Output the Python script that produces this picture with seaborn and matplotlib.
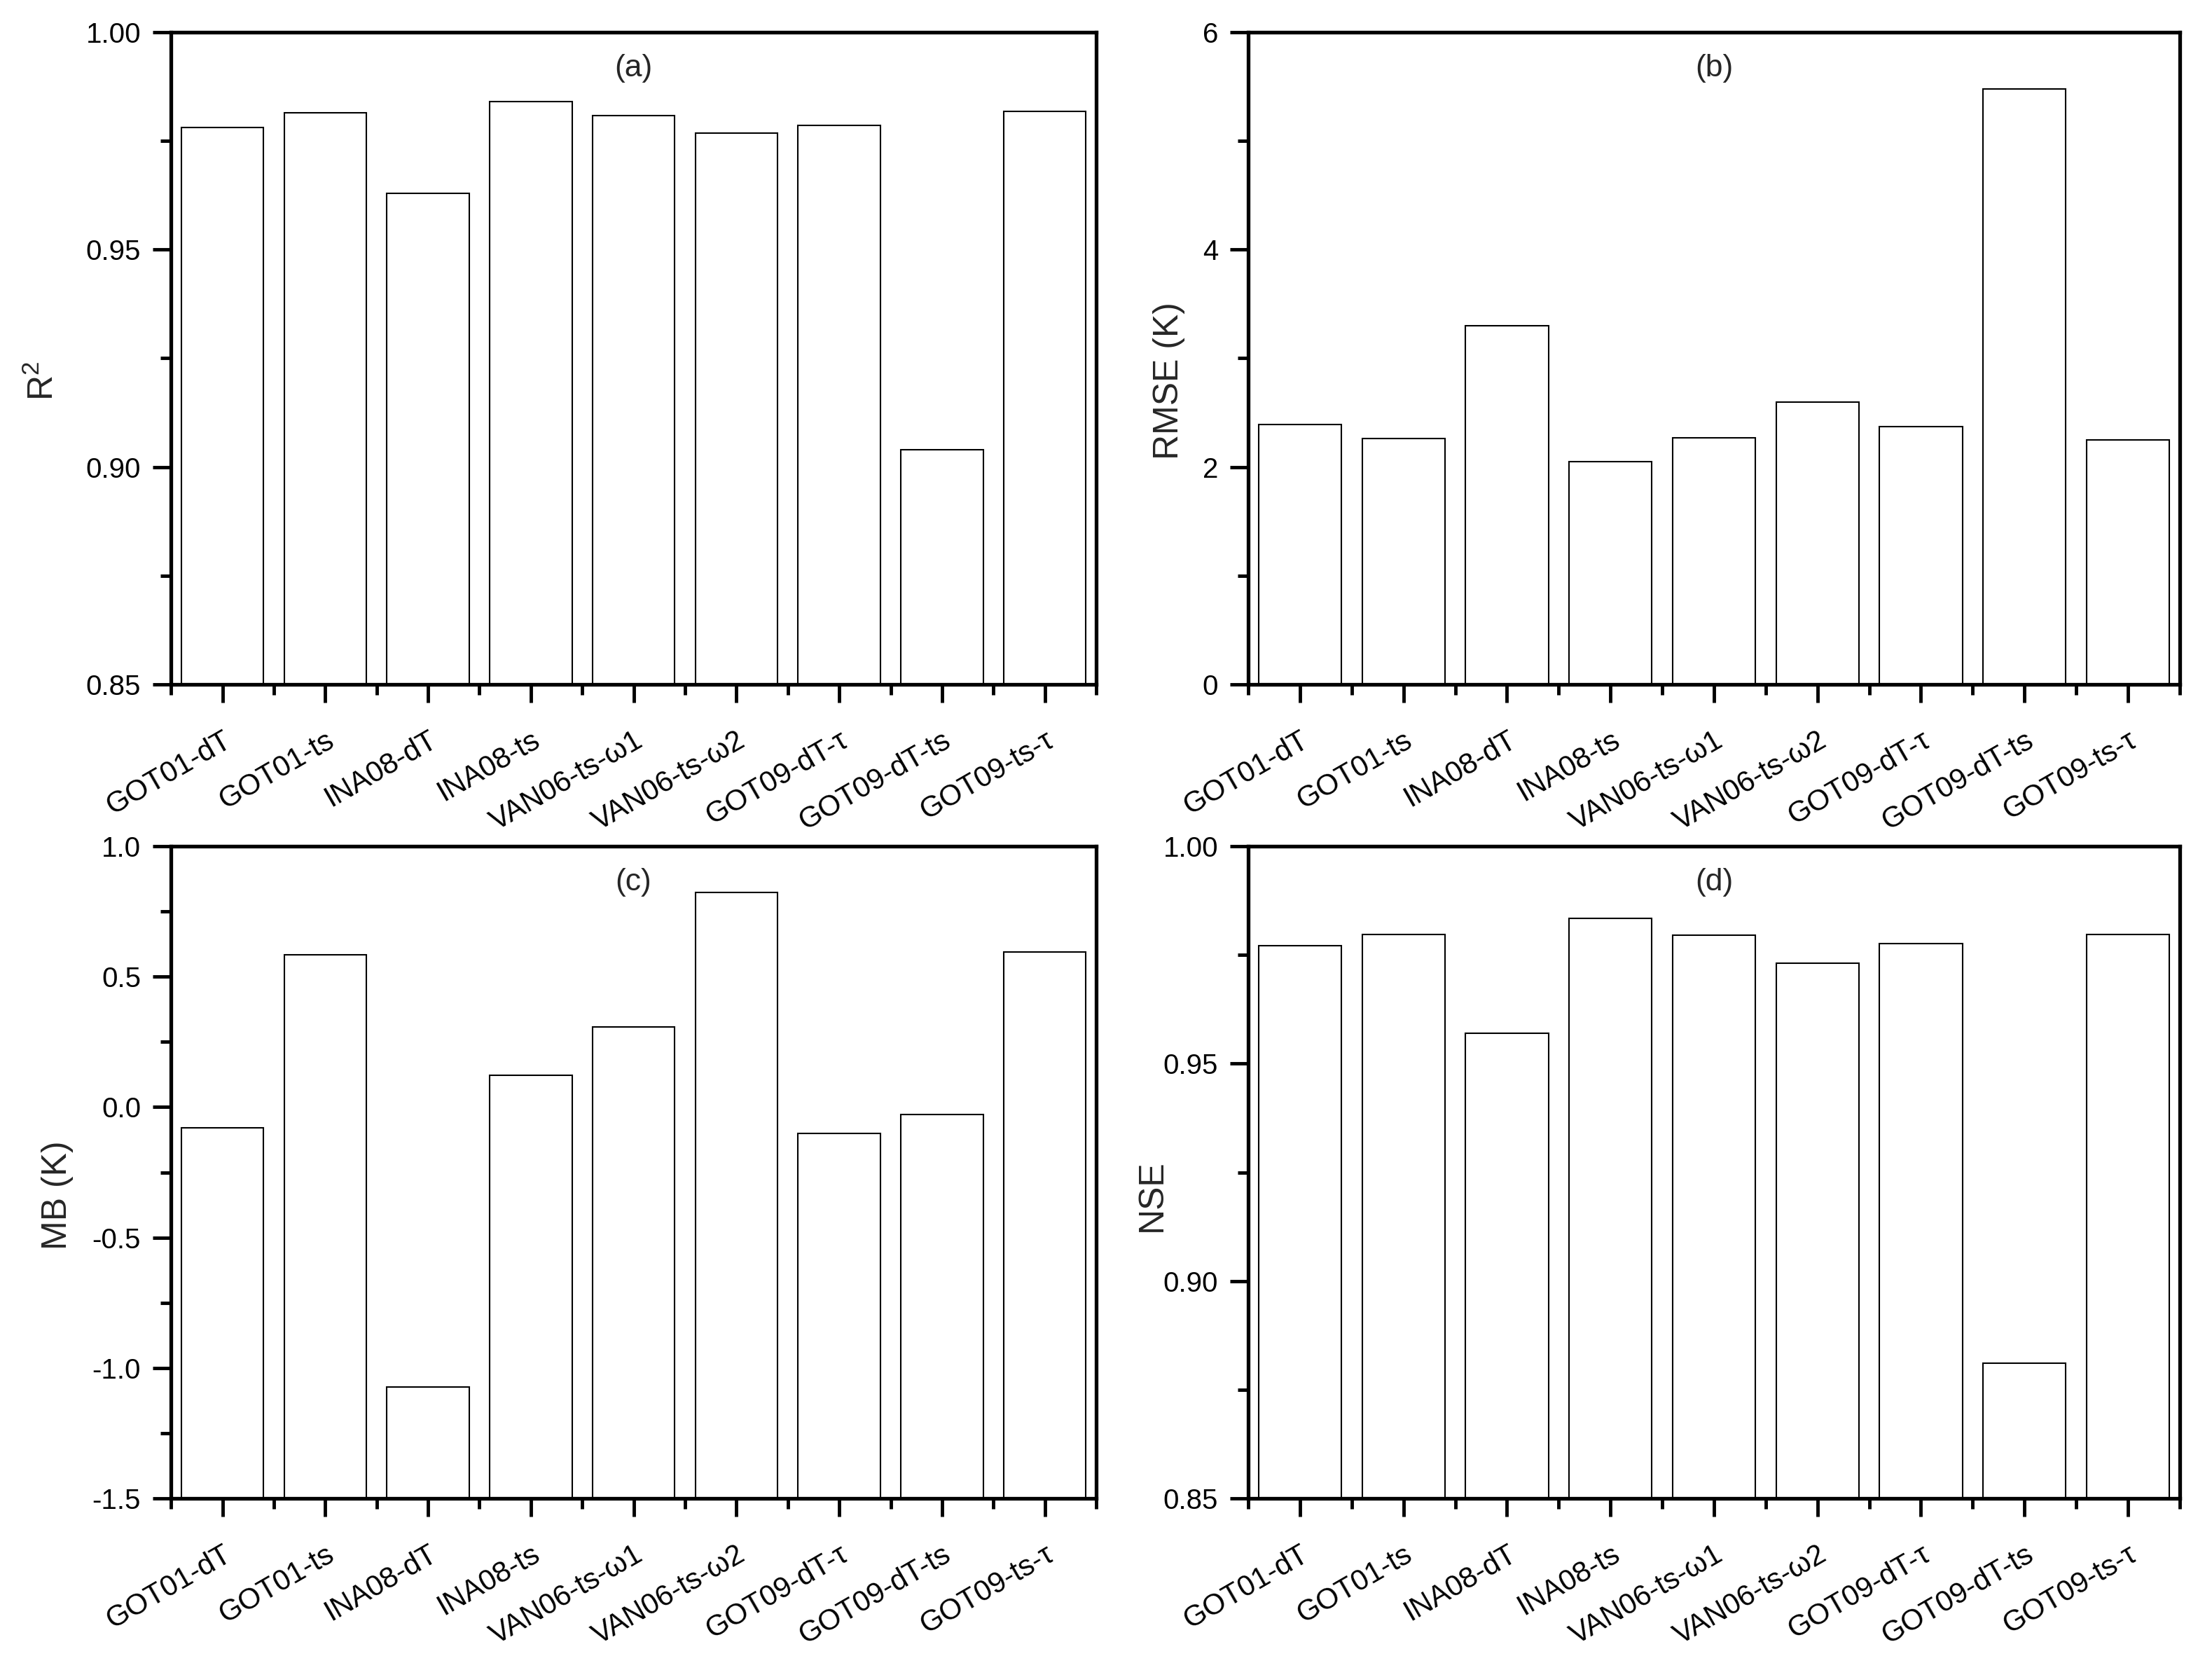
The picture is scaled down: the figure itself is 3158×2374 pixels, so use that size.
import numpy as np
import pandas as pd
import matplotlib
matplotlib.use("Agg")
import matplotlib.pyplot as plt
import seaborn as sns
from matplotlib.ticker import FixedLocator, MultipleLocator, FormatStrFormatter

categories = ["GOT01-dT", "GOT01-ts", "INA08-dT", "INA08-ts", "VAN06-ts-\u03c91",
              "VAN06-ts-\u03c92", "GOT09-dT-\u03c4", "GOT09-dT-ts", "GOT09-ts-\u03c4"]
r2_values = [0.9781, 0.9814, 0.9630, 0.9841, 0.9809, 0.9768, 0.9785, 0.9039, 0.9818]
rmse_values = [2.39, 2.26, 3.30, 2.05, 2.27, 2.60, 2.37, 5.48, 2.25]
mb_values = [-0.08, 0.583, -1.074, 0.122, 0.308, 0.824, -0.101, -0.027, 0.596]
nse_values = [0.9772, 0.9797, 0.9570, 0.9834, 0.9795, 0.9731, 0.9777, 0.8811, 0.9797]

panel_labels = ["(a)", "(b)", "(c)", "(d)"]
y_labels = [r"R$^{\mathregular{2}}$", "RMSE (K)", "MB (K)", "NSE"]

sns.set_style("ticks")
plt.rcParams["font.family"] = ["Liberation Sans", "DejaVu Sans"]
plt.rcParams["axes.unicode_minus"] = False
plt.rcParams["mathtext.fontset"] = "custom"
plt.rcParams["mathtext.rm"] = "Liberation Sans"

fig = plt.figure(figsize=(31.58, 23.74), dpi=100)
positions = [
    [0.0773, 0.5885, 0.4183, 0.3921],
    [0.5643, 0.5885, 0.4211, 0.3921],
    [0.0773, 0.0990, 0.4183, 0.3921],
    [0.5643, 0.0990, 0.4211, 0.3921],
]
series = [r2_values, rmse_values, mb_values, nse_values]
ylims = [(0.85, 1.0), (0, 6), (-1.5, 1.0), (0.85, 1.0)]
majors = [0.05, 2, 0.5, 0.05]
minors = [0.025, 1, 0.25, 0.025]
fmts = ["%.2f", "%d", "%.1f", "%.2f"]
ylabel_x = [-0.120, -0.0677, -0.105, -0.0857]

for i in range(4):
    ax = fig.add_axes(positions[i])
    df = pd.DataFrame({"model": categories, "value": series[i]})
    sns.barplot(data=df, x="model", y="value", ax=ax, color="white",
                edgecolor="black", linewidth=1.5, width=0.8, saturation=1)
    lo, hi = ylims[i]
    if i == 2:
        # bars rise from the bottom of the axis
        for p in ax.patches:
            v = p.get_y() + p.get_height()
            p.set_y(lo)
            p.set_height(v - lo)
    ax.set_ylim(lo, hi)
    ax.set_xlim(-0.5, len(categories) - 0.5)
    ax.yaxis.set_major_locator(MultipleLocator(majors[i]))
    ax.yaxis.set_minor_locator(MultipleLocator(minors[i]))
    ax.yaxis.set_major_formatter(FormatStrFormatter(fmts[i]))
    ax.xaxis.set_minor_locator(FixedLocator(np.arange(-0.5, len(categories), 1.0)))
    for s in ax.spines.values():
        s.set_linewidth(3.8)
        s.set_color("black")
        s.set_visible(True)
    ax.tick_params(axis="both", which="major", direction="out", length=19, width=3.5,
                   color="black", labelsize=29, labelcolor="black")
    ax.tick_params(axis="both", which="minor", direction="out", length=11, width=3.5,
                   color="black")
    ax.tick_params(axis="x", which="major", pad=24)
    ax.tick_params(axis="y", which="major", pad=12)
    ax.set_xticks(range(len(categories)))
    ax.set_xticklabels(categories, rotation=30, ha="right", rotation_mode="anchor",
                       fontsize=30)
    ax.set_xlabel("")
    ax.set_ylabel(y_labels[i], fontsize=36)
    ax.yaxis.set_label_coords(ylabel_x[i], 0.465)
    ax.text(0.5, 0.945, panel_labels[i], transform=ax.transAxes, ha="center",
            va="center", fontsize=32)

fig.savefig("out.png", dpi=100)
